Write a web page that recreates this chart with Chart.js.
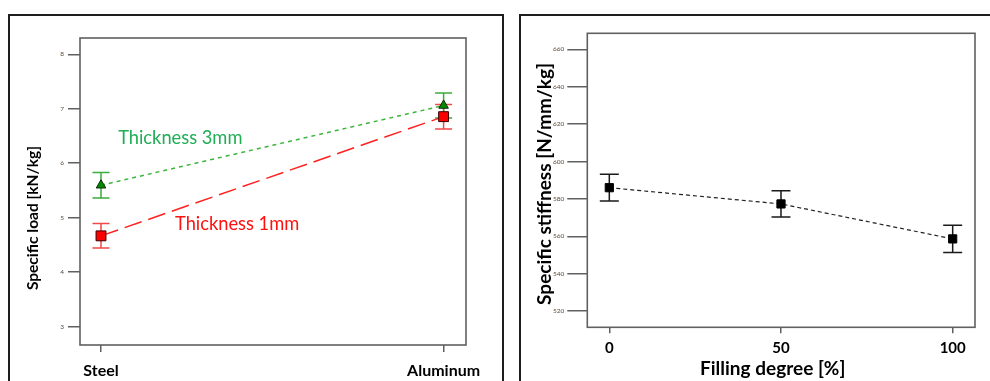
<!DOCTYPE html>
<html>
<head>
<meta charset="utf-8">
<script src="https://cdn.jsdelivr.net/npm/chart.js@4.4.1/dist/chart.umd.min.js"></script>
<style>
  html, body { margin: 0; padding: 0; background: #fff; }
  #wrap { position: relative; width: 990px; height: 381px; overflow: hidden; }
  .panel { position: absolute; border: 2px solid #1e1e1e; box-sizing: border-box; }
  #p1 { left: 8px; top: 14px; width: 496px; height: 420px; }
  #p2 { left: 519px; top: 14px; width: 520px; height: 420px; }
  #loadChart { position: absolute; left: 0; top: 0; }
  #stiffChart { position: absolute; left: 510px; top: 0; }
</style>
</head>
<body>
<div id="wrap">
  <div class="panel" id="p1"></div>
  <div class="panel" id="p2"></div>
  <canvas id="loadChart" width="510" height="381"></canvas>
  <canvas id="stiffChart" width="480" height="381"></canvas>
</div>
<script>
// ---- Specific load by material, two sheet thicknesses ----
const materials = ['Steel', 'Aluminum'];
const load1mm = [4.665, 6.855];
const load1mmErr = [0.225, 0.225];
const load3mm = [5.595, 7.06];
const load3mmErr = [0.235, 0.23];
const loadTicks = [3, 4, 5, 6, 7, 8];

// ---- Specific stiffness vs filling degree ----
const fillingDegree = [0, 50, 100];
const stiffness = [586.0, 577.3, 558.6];
const stiffnessErr = [7.15, 7.05, 7.3];
const stiffnessTicks = [520, 540, 560, 580, 600, 620, 640, 660];
const fillingTicks = [0, 50, 100];

const FONT = 'Lato, "Open Sans", "Noto Sans", sans-serif';

// Error bars with end caps, drawn under the markers
const errorBars = {
  id: 'errorBars',
  beforeDatasetsDraw(chart, args, opts) {
    const ctx = chart.ctx;
    const ys = chart.scales.y;
    chart.data.datasets.forEach((ds, i) => {
      if (!ds.errors) return;
      const meta = chart.getDatasetMeta(i);
      ctx.save();
      ctx.strokeStyle = ds.errorColor;
      ctx.lineWidth = 1.5;
      meta.data.forEach((pt, j) => {
        const v = ds.data[j].y;
        const e = ds.errors[j];
        const yTop = ys.getPixelForValue(v + e);
        const yBot = ys.getPixelForValue(v - e);
        const x = pt.x;
        const w = opts.capHalf;
        ctx.beginPath();
        ctx.moveTo(x, yTop); ctx.lineTo(x, yBot);
        ctx.moveTo(x - w, yTop); ctx.lineTo(x + w, yTop);
        ctx.moveTo(x - w, yBot); ctx.lineTo(x + w, yBot);
        ctx.stroke();
      });
      ctx.restore();
    });
  }
};

// Frame around the plotting area
const plotFrame = {
  id: 'plotFrame',
  afterDraw(chart, args, opts) {
    const { left, top, right, bottom } = chart.chartArea;
    const ctx = chart.ctx;
    ctx.save();
    ctx.strokeStyle = opts.color;
    ctx.lineWidth = opts.width;
    ctx.strokeRect(left, top, right - left, bottom - top);
    ctx.restore();
  }
};

// Axis titles and in-plot labels
const captions = {
  id: 'captions',
  afterDraw(chart, args, opts) {
    const ctx = chart.ctx;
    (opts.items || []).forEach(it => {
      ctx.save();
      let x = it.x, y = it.y;
      if (it.dataX !== undefined) {
        x = chart.scales.x.getPixelForValue(it.dataX);
        y = chart.scales.y.getPixelForValue(it.dataY);
      }
      ctx.translate(x, y);
      if (it.rotate) ctx.rotate(it.rotate);
      ctx.font = it.font;
      ctx.fillStyle = it.color;
      ctx.textAlign = it.align || 'center';
      ctx.textBaseline = 'middle';
      ctx.fillText(it.text, 0, 0);
      ctx.restore();
    });
  }
};

const tinyTick = { size: 6.5, family: FONT };

new Chart(document.getElementById('loadChart'), {
  type: 'line',
  data: {
    datasets: [
      {
        label: 'Thickness 1mm',
        data: materials.map((m, i) => ({ x: i, y: load1mm[i] })),
        errors: load1mmErr,
        errorColor: '#f24848',
        borderColor: '#ff2020',
        borderWidth: 1.5,
        borderDash: [18, 7],
        pointStyle: 'rect',
        pointRadius: 7,
        pointBackgroundColor: '#ff0000',
        pointBorderColor: '#3a0000',
        pointBorderWidth: 1
      },
      {
        label: 'Thickness 3mm',
        data: materials.map((m, i) => ({ x: i, y: load3mm[i] })),
        errors: load3mmErr,
        errorColor: '#3aad3a',
        borderColor: '#3db43d',
        borderWidth: 1.5,
        borderDash: [4, 4],
        pointStyle: 'triangle',
        pointRadius: 5.5,
        pointBackgroundColor: '#008a00',
        pointBorderColor: '#0a2a0a',
        pointBorderWidth: 1
      }
    ]
  },
  options: {
    responsive: false,
    animation: false,
    layout: { padding: { top: 38, right: 44, left: 0, bottom: 0 } },
    plugins: {
      legend: { display: false },
      tooltip: { enabled: false },
      errorBars: { capHalf: 8.5 },
      plotFrame: { color: '#606060', width: 1.6 },
      captions: {
        items: [
          { text: 'Specific load [kN/kg]', x: 33, y: 218, rotate: -Math.PI / 2,
            font: 'bold 15.5px ' + FONT, color: '#000' },
          { text: 'Thickness 3mm', dataX: 0.05, dataY: 6.46, align: 'left',
            font: '18.3px ' + FONT, color: '#1fae55' },
          { text: 'Thickness 1mm', dataX: 0.216, dataY: 4.89, align: 'left',
            font: '18.3px ' + FONT, color: '#ff1010' }
        ]
      }
    },
    scales: {
      x: {
        type: 'linear',
        min: -0.0613,
        max: 1.0654,
        afterBuildTicks: s => { s.ticks = materials.map((m, i) => ({ value: i })); },
        afterFit: s => { s.height = 36; },
        border: { display: false },
        grid: { drawOnChartArea: false, drawTicks: true, tickLength: 7, color: '#606060', lineWidth: 1.5 },
        ticks: {
          callback: v => materials[v],
          padding: 9,
          maxRotation: 0,
          autoSkip: false,
          color: '#000',
          font: { size: 16, weight: 'bold', family: FONT }
        }
      },
      y: {
        type: 'linear',
        min: 2.66,
        max: 8.3,
        afterBuildTicks: s => { s.ticks = loadTicks.map(v => ({ value: v })); },
        afterFit: s => { s.width = 80; },
        border: { display: false },
        grid: { drawOnChartArea: false, drawTicks: true, tickLength: 12, color: '#606060', lineWidth: 1.5 },
        ticks: { padding: 4, color: '#5a4a3a', font: tinyTick }
      }
    }
  },
  plugins: [errorBars, plotFrame, captions]
});

new Chart(document.getElementById('stiffChart'), {
  type: 'line',
  data: {
    datasets: [
      {
        label: 'Specific stiffness',
        data: fillingDegree.map((f, i) => ({ x: f, y: stiffness[i] })),
        errors: stiffnessErr,
        errorColor: '#1a1a1a',
        borderColor: '#222',
        borderWidth: 1.2,
        borderDash: [4, 3],
        pointStyle: 'rect',
        pointRadius: 5.8,
        pointBackgroundColor: '#000',
        pointBorderColor: '#000',
        pointBorderWidth: 1
      }
    ]
  },
  options: {
    responsive: false,
    animation: false,
    layout: { padding: { top: 33.3, right: 15, left: 0, bottom: 0 } },
    plugins: {
      legend: { display: false },
      tooltip: { enabled: false },
      errorBars: { capHalf: 9.5 },
      plotFrame: { color: '#606060', width: 1.6 },
      captions: {
        items: [
          { text: 'Specific stiffness [N/mm/kg]', x: 35, y: 184, rotate: -Math.PI / 2,
            font: 'bold 19px ' + FONT, color: '#000' },
          { text: 'Filling degree [%]', x: 262.7, y: 369,
            font: 'bold 19px ' + FONT, color: '#000' }
        ]
      }
    },
    scales: {
      x: {
        type: 'linear',
        min: -6.41,
        max: 106.5,
        afterBuildTicks: s => { s.ticks = fillingTicks.map(v => ({ value: v })); },
        afterFit: s => { s.height = 53.7; },
        border: { display: false },
        grid: { drawOnChartArea: false, drawTicks: true, tickLength: 6, color: '#606060', lineWidth: 1.5 },
        ticks: {
          padding: 5.5,
          maxRotation: 0,
          autoSkip: false,
          color: '#000',
          font: { size: 15, weight: 'bold', family: FONT }
        }
      },
      y: {
        type: 'linear',
        min: 511.3,
        max: 668.6,
        afterBuildTicks: s => { s.ticks = stiffnessTicks.map(v => ({ value: v })); },
        afterFit: s => { s.width = 77.3; },
        border: { display: false },
        grid: { drawOnChartArea: false, drawTicks: true, tickLength: 20, color: '#606060', lineWidth: 1.5 },
        ticks: { padding: 3, color: '#5a4a3a', font: tinyTick }
      }
    }
  },
  plugins: [errorBars, plotFrame, captions]
});
</script>
</body>
</html>
